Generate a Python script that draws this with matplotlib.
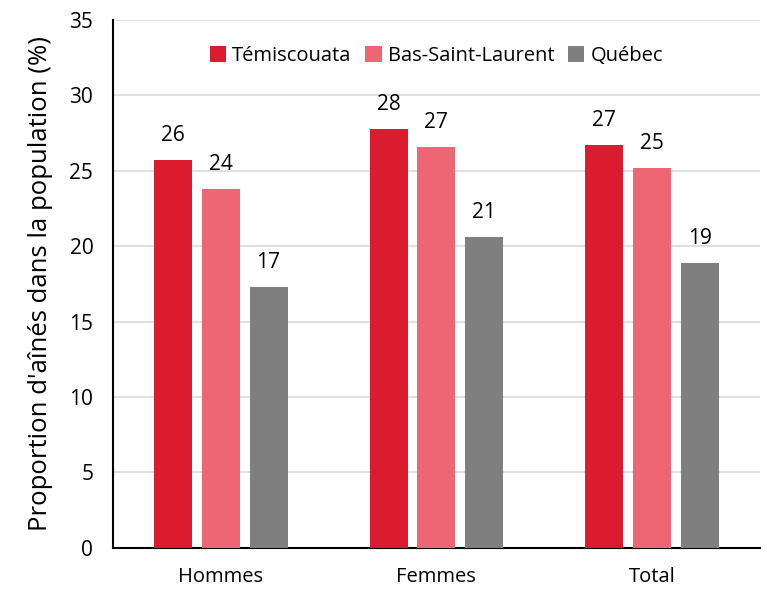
import numpy as np
import matplotlib.pyplot as plt

plt.rcParams['font.family'] = ['Open Sans', 'DejaVu Sans']

categories = ['Hommes', 'Femmes', 'Total']
series = ['Témiscouata', 'Bas-Saint-Laurent', 'Québec']
temiscouata = [25.7, 27.8, 26.7]
bas_saint_laurent = [23.8, 26.6, 25.2]
quebec = [17.3, 20.6, 18.9]
colors = ['#DA1B30', '#EE6673', '#7F7F7F']

fig = plt.figure(figsize=(7.67, 5.91), dpi=100)
ax = fig.add_axes([0.147, 0.073, 0.844, 0.893])

x = np.arange(len(categories))
width = 0.176
step = 0.222
for i, (name, vals) in enumerate(zip(series, [temiscouata, bas_saint_laurent, quebec])):
    bars = ax.bar(x + (i - 1) * step, vals, width, color=colors[i], label=name, zorder=3)
    for b, v in zip(bars, vals):
        ax.annotate(f'{round(v):d}', (b.get_x() + b.get_width() / 2, v),
                    xytext=(0, 10), textcoords='offset points',
                    ha='center', va='bottom', fontsize=15)

ax.set_xlim(-0.5, 2.5)
ax.set_ylim(0, 35)
ax.set_yticks(range(0, 36, 5))
ax.set_xticks(x)
ax.set_xticklabels(categories)
ax.tick_params(axis='y', length=0, labelsize=15, pad=14)
ax.tick_params(axis='x', length=0, labelsize=14.5, pad=14)
ax.set_ylabel("Proportion d'aînés dans la population (%)", fontsize=18.5, labelpad=12)
ax.grid(axis='y', color='#D9D9D9', linewidth=1.2, zorder=0)
for s in ['top', 'right']:
    ax.spines[s].set_visible(False)
for s in ['left', 'bottom']:
    ax.spines[s].set_linewidth(1.5)
    ax.spines[s].set_color('black')

ax.legend(loc='upper center', bbox_to_anchor=(0.5, 0.985), ncol=3, frameon=False,
          fontsize=14.5, handlelength=0.8, handleheight=0.8, handletextpad=0.3,
          columnspacing=0.7)

fig.savefig('out.png', dpi=100)
